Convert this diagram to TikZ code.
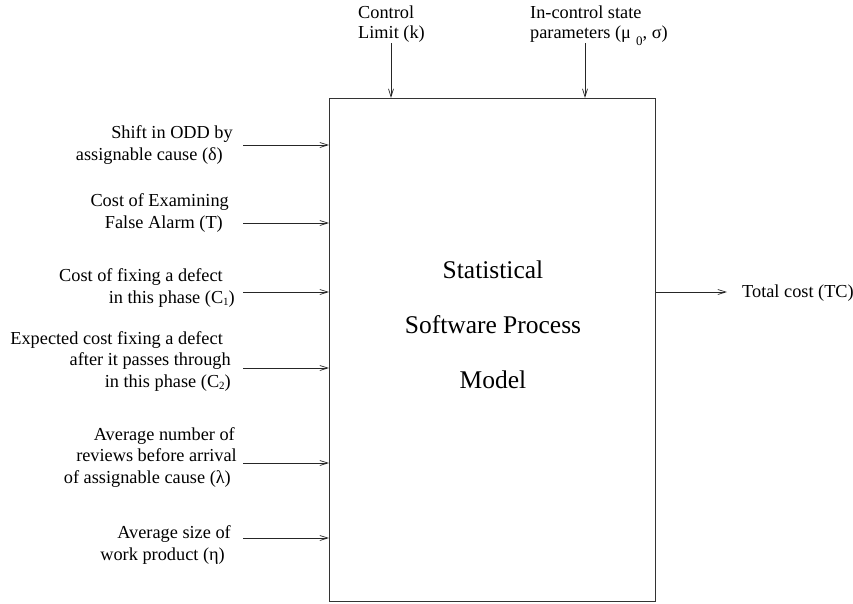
\documentclass[tikz,border=0pt]{standalone}
\usepackage{fontspec}
\setmainfont{Liberation Serif}
\usetikzlibrary{arrows.meta}
\newcommand\rpad[1]{\hbox to #1pt{}}
\newcommand\lowsub[1]{\raisebox{-0.15em}{\fontsize{11}{11}\selectfont #1}}
\newcommand\deepsub[1]{\raisebox{-0.4em}{\fontsize{13}{13}\selectfont #1}}
\begin{document}
\begin{tikzpicture}[x=1pt,y=-1pt,
  lbl/.style={font=\fontsize{18.3}{21.5}\selectfont, align=right, anchor=base east, inner sep=0pt},
  toplbl/.style={font=\fontsize{18.3}{20}\selectfont, align=left, anchor=base west, inner sep=0pt},
  arr/.style={-{Straight Barb[length=8pt,width=5pt]}, line width=0.7pt, black!85},
  modelbox/.style={draw=black!80, line width=1.4pt, inner sep=0pt, anchor=north west,
    minimum width=326pt, minimum height=503pt}]
\useasboundingbox (0,0) rectangle (853,603);
\node[modelbox] (box) at (329,98) {};
\node[font=\fontsize{25.5}{55}\selectfont, align=center] (title) at (493,325)
  {Statistical\\Software Process\\Model};
% left inputs (anchor = baseline of last line)
\node[lbl] (t1) at (237,160) {Shift in ODD by\rpad{4}\\assignable cause (δ)\rpad{14}};
\node[lbl] (t2) at (237,228) {Cost of Examining\rpad{8}\\False Alarm (T)\rpad{14}};
\node[lbl] (t3) at (237,303) {Cost of fixing a defect\rpad{14}\\in this phase (C\lowsub{1})\rpad{2}};
\node[lbl] (t4) at (237,387) {Expected cost fixing a defect\rpad{14}\\after it passes through\rpad{6}\\in this phase (C\lowsub{2})\rpad{6}};
\node[lbl] (t5) at (237,483) {Average number of\rpad{2}\\reviews before arrival\rpad{0}\\of assignable cause (λ)\rpad{6}};
\node[lbl] (t6) at (237,560) {Average size of\rpad{6}\\work product (η)\rpad{12}};
\coordinate (s1) at (243,145);
\coordinate (s2) at (243,223);
\coordinate (s3) at (243,292);
\coordinate (s4) at (243,368);
\coordinate (s5) at (243,463);
\coordinate (s6) at (243,538);
\foreach \s in {s1,s2,s3,s4,s5,s6} \draw[arr] (\s) -- (\s -| box.west);
% top inputs
\node[toplbl] (k) at (358,38) {Control\\Limit (k)};
\node[toplbl] (mu) at (530,38) {In-control state\\parameters (μ\,\deepsub{\,0}, σ)};
\coordinate (k0) at (391,43);
\coordinate (m0) at (585,43);
\draw[arr] (k0) -- (k0 |- box.north);
\draw[arr] (m0) -- (m0 |- box.north);
% output
\coordinate (o1) at (727,292);
\draw[arr] (o1 -| box.east) -- (o1);
\node[font=\fontsize{18.3}{21.5}\selectfont, anchor=base west, inner sep=0pt] (tc) at (742,297) {Total cost (TC)};
\end{tikzpicture}
\end{document}
